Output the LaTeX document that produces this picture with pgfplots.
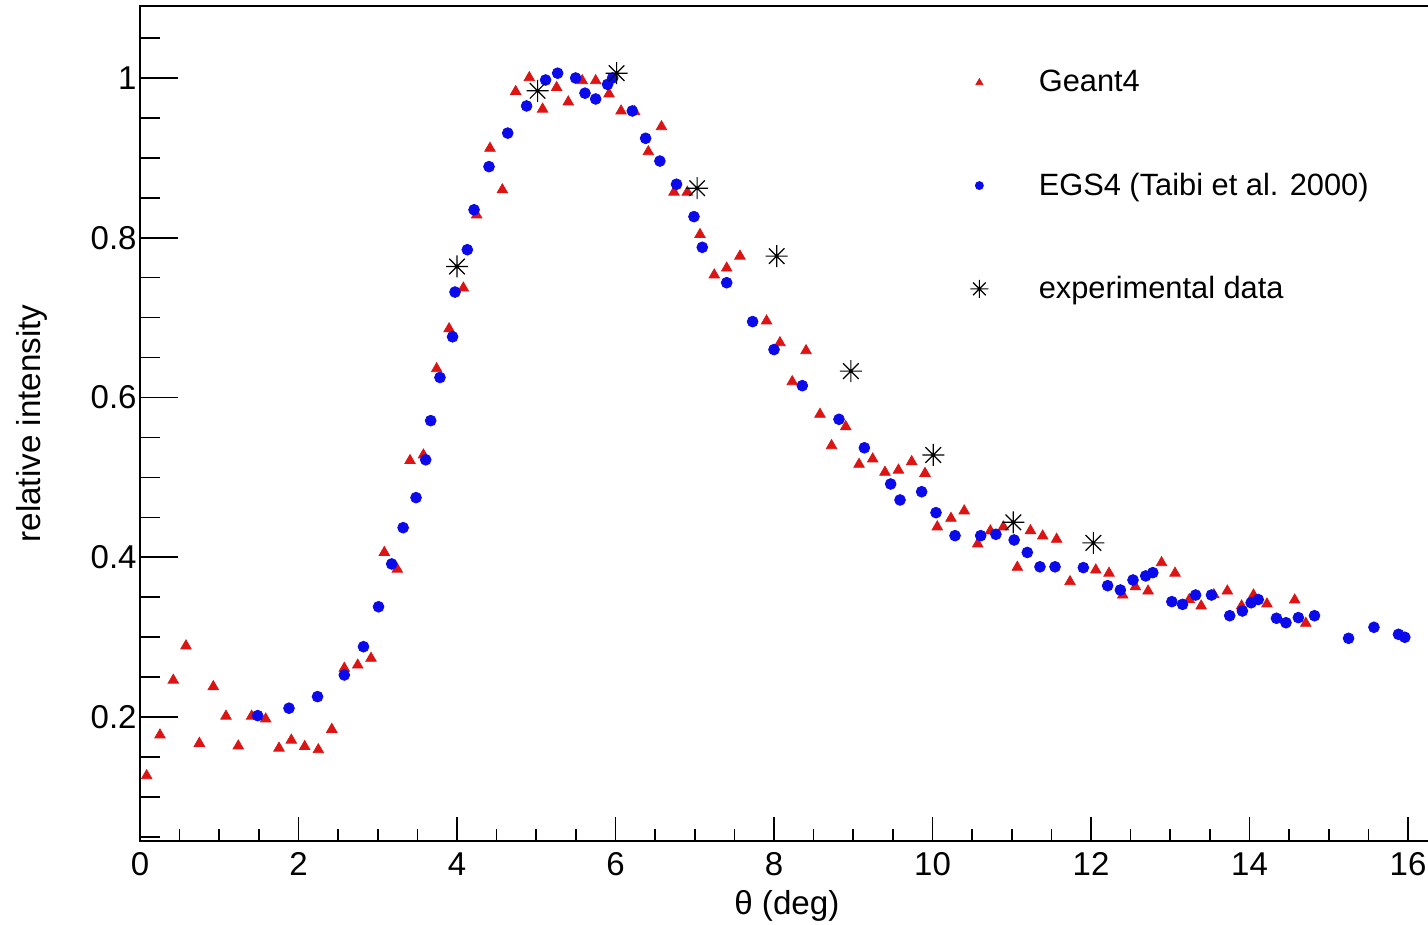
\documentclass[border=0pt]{standalone}
\usepackage{fontspec}
\setmainfont{Liberation Sans}
\usepackage{pgfplots}
\pgfplotsset{compat=1.18}
\definecolor{rred}{RGB}{220,20,20}
\definecolor{rblue}{RGB}{10,10,235}
\pgfdeclareplotmark{ast8}{%
  \pgfpathmoveto{\pgfqpoint{-\pgfplotmarksize}{0pt}}%
  \pgfpathlineto{\pgfqpoint{\pgfplotmarksize}{0pt}}%
  \pgfpathmoveto{\pgfqpoint{0pt}{-\pgfplotmarksize}}%
  \pgfpathlineto{\pgfqpoint{0pt}{\pgfplotmarksize}}%
  \pgfpathmoveto{\pgfqpoint{-.7071\pgfplotmarksize}{-.7071\pgfplotmarksize}}%
  \pgfpathlineto{\pgfqpoint{.7071\pgfplotmarksize}{.7071\pgfplotmarksize}}%
  \pgfpathmoveto{\pgfqpoint{-.7071\pgfplotmarksize}{.7071\pgfplotmarksize}}%
  \pgfpathlineto{\pgfqpoint{.7071\pgfplotmarksize}{-.7071\pgfplotmarksize}}%
  \pgfusepathqstroke
  \pgfpathcircle{\pgfpointorigin}{0.6pt}\pgfusepathqfill}
\pgfplotsset{
  legimg/.style={legend image code/.code={\path (-6pt,0pt) (27.5pt,0pt); \draw[##1,mark size=#1] plot coordinates {(0pt,0pt)};}},
  common/.style={
    x=39.625pt, y=399.375pt,
    xmin=0, xmax=16.3, ymin=0.045, ymax=1.09,
    axis line style={line width=0.8pt},
    tick style={line width=0.8pt, black},
    tick align=inside,
    xtick pos=left, ytick pos=left,
    /pgf/number format/assume math mode=true,
    tick label style={font=\fontsize{16.5}{19}\selectfont},
    clip=false,
  }
}
\begin{document}
\begin{tikzpicture}
% axis carrying the y ticks
\begin{axis}[common,
  xtick=\empty,
  ytick={0.2,0.4,0.6,0.8,1},
  minor ytick={0.05,0.1,0.15,0.25,0.3,0.35,0.45,0.5,0.55,0.65,0.7,0.75,0.85,0.9,0.95,1.05},
  major tick length=19pt, minor tick length=10pt,
  yticklabel style={inner xsep=1.5pt},
  ylabel={relative intensity},
  every axis y label/.style={at={(axis description cs:-0.0836,0.5)},rotate=90,anchor=center,font=\fontsize{16.6}{19}\selectfont},
]
\end{axis}
% axis carrying x ticks and data
\begin{axis}[common, name=B,
  ytick=\empty,
  xtick={0,2,4,6,8,10,12,14,16},
  minor xtick={0.5,1,1.5,2.5,3,3.5,4.5,5,5.5,6.5,7,7.5,8.5,9,9.5,10.5,11,11.5,12.5,13,13.5,14.5,15,15.5},
  major tick length=12pt, minor tick length=6pt,
  xticklabel style={yshift=-2.5pt},
  xlabel={θ (deg)},
  every axis x label/.style={at={(axis description cs:0.5008,-0.0785)},anchor=center,font=\fontsize{16.6}{19}\selectfont},
  legend style={at={(axis cs:10.43,1.015)}, anchor=north west, draw=none, fill=none,
    font=\fontsize{15.4}{18}\selectfont, row sep=35pt, inner sep=0pt},
  legend cell align=left,
]
\addplot[only marks, mark=triangle*, mark size=3pt, color=rred, legimg=2pt]
coordinates {
(0.084,0.1265)(0.252,0.1775)(0.42,0.246)(0.58,0.289)(0.749,0.167)(0.925,0.238)
(1.085,0.201)(1.24,0.1637)(1.408,0.201)(1.586,0.1975)(1.754,0.161)(1.909,0.171)
(2.078,0.163)(2.25,0.159)(2.42,0.1845)(2.578,0.261)(2.747,0.265)(2.915,0.2735)
(3.083,0.406)(3.246,0.385)(3.407,0.521)(3.576,0.528)(3.743,0.636)(3.9,0.686)
(4.08,0.737)(4.248,0.8285)(4.416,0.912)(4.572,0.86)(4.74,0.983)(4.912,1.0004)
(5.08,0.961)(5.257,0.988)(5.404,0.970)(5.58,0.9966)(5.75,0.9966)(5.918,0.98)
(6.07,0.9587)(6.24,0.958)(6.414,0.9077)(6.58,0.939)(6.738,0.857)(6.906,0.857)
(7.066,0.804)(7.246,0.7534)(7.403,0.762)(7.57,0.777)(7.906,0.6958)(8.075,0.6686)
(8.23,0.6198)(8.404,0.6586)(8.58,0.579)(8.726,0.5397)(8.905,0.5635)(9.073,0.5164)
(9.245,0.523)(9.4,0.5064)(9.57,0.509)(9.737,0.5197)(9.905,0.505)(10.06,0.438)
(10.233,0.4487)(10.4,0.458)(10.57,0.4166)(10.73,0.433)(10.894,0.438)(11.07,0.3874)
(11.236,0.4333)(11.39,0.4266)(11.566,0.4225)(11.735,0.3694)(12.06,0.384)(12.227,0.380)
(12.4,0.3527)(12.56,0.363)(12.72,0.3577)(12.89,0.3932)(13.06,0.38)(13.24,0.347)
(13.39,0.339)(13.55,0.353)(13.72,0.3577)(13.9,0.339)(14.05,0.3527)(14.22,0.3415)
(14.57,0.3465)(14.71,0.3173)
};
\addlegendentry{Geant4}
\addplot[only marks, mark=*, mark size=2.7pt, color=rblue, legimg=2pt]
coordinates {
(1.485,0.2017)(1.88,0.211)(2.24,0.2255)(2.578,0.2526)(2.82,0.288)(3.01,0.338)
(3.176,0.3916)(3.32,0.437)(3.483,0.4746)(3.605,0.522)(3.668,0.571)(3.785,0.625)
(3.944,0.676)(3.975,0.732)(4.13,0.785)(4.215,0.835)(4.404,0.889)(4.64,0.931)
(4.878,0.965)(5.118,0.9975)(5.27,1.006)(5.497,1.0)(5.615,0.981)(5.75,0.9737)
(5.9,0.992)(5.964,1.0)(6.212,0.9587)(6.38,0.9245)(6.56,0.896)(6.77,0.867)
(6.99,0.8264)(7.095,0.788)(7.403,0.7437)(7.73,0.695)(8.0,0.66)(8.357,0.6148)
(8.82,0.5727)(9.14,0.537)(9.472,0.4917)(9.59,0.4717)(9.863,0.482)(10.044,0.4558)
(10.284,0.427)(10.608,0.427)(10.8,0.4287)(11.03,0.4216)(11.196,0.406)(11.356,0.388)
(11.546,0.388)(11.903,0.387)(12.21,0.3644)(12.37,0.359)(12.53,0.3715)(12.69,0.3766)
(12.78,0.3807)(13.02,0.3444)(13.155,0.341)(13.32,0.3527)(13.52,0.3527)(13.75,0.3268)
(13.91,0.3327)(14.02,0.343)(14.11,0.347)(14.34,0.3236)(14.46,0.318)(14.616,0.3244)
(14.82,0.3268)(15.25,0.2985)(15.57,0.3123)(15.88,0.3035)(15.96,0.2998)
};
\addlegendentry{EGS4 (Taibi et al. 2000)}
\addplot[only marks, mark=ast8, mark size=5.5pt, color=black, mark options={line width=0.6pt}, legimg=4.5pt]
coordinates {
(4.0,0.764)(5.017,0.984)(6.014,1.006)(7.03,0.862)(8.034,0.777)(8.97,0.633)
(10.01,0.528)(11.02,0.4437)(12.03,0.418)
};
\addlegendentry{experimental data}
\end{axis}
\pgfresetboundingbox
\path[use as bounding box] ([shift={(-70pt,-42.1pt)}]B.south west) rectangle ([shift={(644pt,3.05pt)}]B.north west);
\end{tikzpicture}
\end{document}
